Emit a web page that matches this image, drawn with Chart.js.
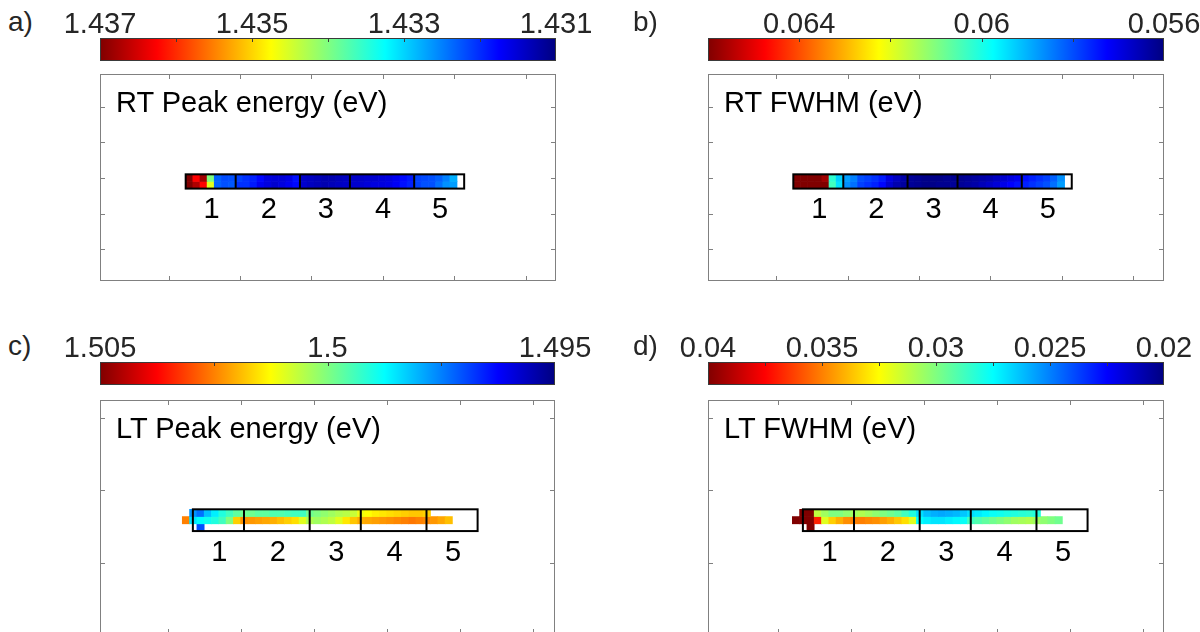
<!DOCTYPE html>
<html>
<head>
<meta charset="utf-8">
<title>PL maps</title>
<script src="https://cdn.jsdelivr.net/npm/chart.js@4.4.1/dist/chart.umd.min.js"></script>
<style>
  html, body { margin: 0; padding: 0; background: #fff; width: 1200px; height: 632px; overflow: hidden; }
  body { position: relative; font-family: "Liberation Sans", Arial, sans-serif; }
  canvas { position: absolute; }
  .txt { position: absolute; white-space: nowrap; line-height: 1; }
</style>
</head>
<body>
<script>
// ==========================================
// DATA (one array per pixel row, null = no signal)
// ==========================================
const rtPeakRow1 = [1.4370, 1.43625, 1.4368, 1.4340, 1.43232, 1.4322, 1.43222,
  1.43213, 1.43203, 1.43194, 1.43178, 1.43156, 1.43152, 1.43152, 1.4316, 1.43184,
  1.43142, 1.43138, 1.43133, 1.43128, 1.43128, 1.43133, 1.43138,
  1.43142, 1.43142, 1.43147, 1.43147, 1.43152, 1.43156, 1.43166, 1.4318, 1.43189,
  1.43213, 1.43218, 1.43222, 1.43232, 1.4325, 1.43278, null];
const rtPeakRow2 = [1.4370, 1.43672, 1.43625, 1.43457, 1.43232, 1.43222, 1.43227,
  1.43203, 1.43203, 1.43189, 1.43166, 1.43156, 1.43147, 1.43156, 1.43166, 1.4318,
  1.43147, 1.43138, 1.43133, 1.43128, 1.43133, 1.43138, 1.43142,
  1.43147, 1.43147, 1.43152, 1.43156, 1.43156, 1.4316, 1.4317, 1.43184, 1.43194,
  1.43213, 1.43222, 1.43222, 1.43241, 1.4326, 1.43268, null];

const rtFwhmRow1 = [0.0661, 0.0661, 0.0661, 0.0661, 0.06568, 0.0602, 0.0593,
  0.0588, 0.0585, 0.0580, 0.05788, 0.05772, 0.0575, 0.05694, 0.05663, 0.05639,
  0.05623, 0.05616, 0.05608, 0.05608, 0.05608, 0.05616, 0.05616,
  0.05616, 0.05623, 0.05631, 0.05639, 0.05647, 0.05663, 0.05678, 0.05694, 0.0571,
  0.05741, 0.05756, 0.05772, 0.05788, 0.05819, 0.05866, null];
const rtFwhmRow2 = [0.0661, 0.0661, 0.0661, 0.0661, 0.0661, 0.06038, 0.05945,
  0.05866, 0.05835, 0.05788, 0.05772, 0.05756, 0.0573, 0.05678, 0.05647, 0.05631,
  0.05623, 0.05616, 0.05608, 0.05608, 0.05616, 0.05616, 0.05623,
  0.05623, 0.05631, 0.05639, 0.05655, 0.0567, 0.05686, 0.05702, 0.05725, 0.05741,
  0.05756, 0.05772, 0.05788, 0.05803, 0.05835, 0.0588, null];

const ltPeakRow1 = [null, 1.4977, 1.49735, 1.49813, 1.4986, 1.49906, 1.49938, 1.49969, 1.49984,
  1.49984, 1.49969, 1.49969, 1.49953, 1.49953, 1.49945, 1.49938, 1.49938,
  1.49984, 1.5, 1.50016, 1.50031, 1.50047, 1.50055, 1.5007,
  1.5011, 1.50125, 1.5014, 1.50148, 1.50156, 1.50164, 1.50172, 1.5018, 1.5018,
  1.50172];
const ltPeakRow2 = [1.5025, 1.4985, 1.49875, 1.4989, 1.49906, 1.49938, 1.5, 1.50172,
  1.50234, 1.50227, 1.50219, 1.50211, 1.50203, 1.50188, 1.50172, 1.50156, 1.50095,
  1.50047, 1.50031, 1.50047, 1.50063, 1.50095, 1.50148, 1.5018,
  1.50203, 1.50211, 1.50219, 1.50227, 1.50234, 1.50242, 1.5025, 1.50258, 1.5025,
  1.50242, 1.50227, 1.50211, 1.50188];
const ltPeakRow3 = [null, null, 1.49703];

const ltFwhmRow1 = [null, 0.0402, 0.0402, 0.03125, 0.03063, 0.03, 0.03, 0.03031, 0.03063,
  0.03094, 0.03063, 0.03031, 0.03, 0.02969, 0.02938, 0.02875, 0.02813,
  0.0269, 0.02625, 0.02594, 0.0258, 0.02594, 0.0261, 0.0264,
  0.0269, 0.0271, 0.0274, 0.02766, 0.0278, 0.028, 0.02813, 0.02828, 0.0284,
  0.02813];
const ltFwhmRow2 = [0.0402, 0.0402, 0.0402, 0.03688, 0.0319, 0.03344, 0.03406, 0.03469,
  0.035, 0.035, 0.03484, 0.03469, 0.03438, 0.03406, 0.0336, 0.03313, 0.0319,
  0.0275, 0.0272, 0.027, 0.027, 0.0272, 0.0274, 0.02766,
  0.02875, 0.02906, 0.02938, 0.02969, 0.03, 0.03031, 0.03063, 0.03078, 0.03094,
  0.03063, 0.03031, 0.03, 0.02969];
const ltFwhmRow3 = [null, null, 0.0402];

// colour scale limits, labels and minor ticks
const rtPeakRange = [1.431, 1.437];
const rtPeakLabels = ['1.437', '1.435', '1.433', '1.431'];
const rtPeakTicks = [1.432, 1.433, 1.434, 1.435, 1.436];

const rtFwhmRange = [0.056, 0.066];
const rtFwhmLabels = ['0.064', '0.06', '0.056'];
const rtFwhmTicks = [0.058, 0.060, 0.062, 0.064];

const ltPeakRange = [1.495, 1.505];
const ltPeakLabels = ['1.505', '1.5', '1.495'];
const ltPeakTicks = [1.4975, 1.5, 1.5025];

const ltFwhmRange = [0.02, 0.04];
const ltFwhmLabels = ['0.04', '0.035', '0.03', '0.025', '0.02'];
const ltFwhmTicks = [0.0225, 0.025, 0.0275, 0.03, 0.0325, 0.035, 0.0375];

// map axes (pixel units) and the five segments of the sample
const boxTicksXRt = [-2.4, 7.6, 17.6, 27.6, 37.6, 47.6];
const boxTicksYRt = [-9.5, -4.5, 0.5, 5.5, 10.5];
const boxTicksXLt = [-2, 8, 18, 28, 38, 48];
const boxTicksYLt = [-12.6, -2.6, 7.4, 17.4];
const segEdgesRt = [0, 7, 16, 23, 32, 39];
const segEdgesLt = [1.45, 8.45, 17.45, 24.45, 33.45, 40.45];
const segLabels = ['1', '2', '3', '4', '5'];

const FONT = '"Liberation Sans", Arial, sans-serif';

// ==========================================
// PANEL LAYOUT
// ==========================================
const panels = [
  { letter: 'a)', title: 'RT Peak energy (eV)', rows: [rtPeakRow1, rtPeakRow2], range: rtPeakRange,
    labels: rtPeakLabels, cbTicks: rtPeakTicks, box: { l: 100, t: 74, r: 556, b: 281 }, bar: { t: 38, b: 61 },
    xLim: [-12.0, 51.86], yLim: [-14.07, 14.96], ticksX: boxTicksXRt, ticksY: boxTicksYRt,
    seg: segEdgesRt, outlineRows: 2, numY: 4.95, letterPos: [8, 32], titlePos: [116, 113] },
  { letter: 'b)', title: 'RT FWHM (eV)', rows: [rtFwhmRow1, rtFwhmRow2], range: rtFwhmRange,
    labels: rtFwhmLabels, cbTicks: rtFwhmTicks, box: { l: 708, t: 74, r: 1164, b: 281 }, bar: { t: 38, b: 61 },
    xLim: [-11.95, 51.92], yLim: [-14.07, 14.96], ticksX: boxTicksXRt, ticksY: boxTicksYRt,
    seg: segEdgesRt, outlineRows: 2, numY: 4.95, letterPos: [633, 32], titlePos: [724, 113] },
  { letter: 'c)', title: 'LT Peak energy (eV)', rows: [ltPeakRow1, ltPeakRow2, ltPeakRow3], range: ltPeakRange,
    labels: ltPeakLabels, cbTicks: ltPeakTicks, box: { l: 100, t: 400, r: 555, b: 634 }, bar: { t: 362, b: 385 },
    xLim: [-11.27, 51.05], yLim: [-15.08, 17.2], ticksX: boxTicksXLt, ticksY: boxTicksYLt,
    seg: segEdgesLt, outlineRows: 3, numY: 6.05, letterPos: [8, 356], titlePos: [116, 439] },
  { letter: 'd)', title: 'LT FWHM (eV)', rows: [ltFwhmRow1, ltFwhmRow2, ltFwhmRow3], range: ltFwhmRange,
    labels: ltFwhmLabels, cbTicks: ltFwhmTicks, box: { l: 708, t: 400, r: 1164, b: 634 }, bar: { t: 362, b: 385 },
    xLim: [-11.55, 50.92], yLim: [-15.08, 17.2], ticksX: boxTicksXLt, ticksY: boxTicksYLt,
    seg: segEdgesLt, outlineRows: 3, numY: 6.05, letterPos: [633, 356], titlePos: [724, 439] }
];

// MATLAB-like jet colormap
function jet(t) {
  t = Math.min(1, Math.max(0, t));
  const c = v => Math.round(255 * Math.min(1, Math.max(0, v)));
  return `rgb(${c(1.5 - Math.abs(4 * t - 3))},${c(1.5 - Math.abs(4 * t - 2))},${c(1.5 - Math.abs(4 * t - 1))})`;
}

function addCanvas(left, top, w, h) {
  const cv = document.createElement('canvas');
  cv.width = w; cv.height = h;
  cv.style.left = left + 'px'; cv.style.top = top + 'px';
  cv.style.width = w + 'px'; cv.style.height = h + 'px';
  document.body.appendChild(cv);
  return cv;
}

function addText(txt, left, baseline, size, color) {
  const d = document.createElement('div');
  d.className = 'txt';
  d.textContent = txt;
  d.style.fontSize = size + 'px';
  d.style.color = color;
  d.style.left = left + 'px';
  d.style.top = (baseline - 0.8465 * size) + 'px';
  document.body.appendChild(d);
}

function line(ctx, x0, y0, x1, y1) {
  ctx.beginPath(); ctx.moveTo(x0, y0); ctx.lineTo(x1, y1); ctx.stroke();
}

// frame, sample outline and segment numbers
const panelFrame = {
  id: 'panelFrame',
  afterDatasetsDraw(chart, args, opts) {
    const { ctx, chartArea: ca, scales: { x, y } } = chart;
    const p = opts.panel;
    ctx.save();
    const y0 = y.getPixelForValue(0);
    const y1 = y.getPixelForValue(p.outlineRows);
    const xs = p.seg.map(v => x.getPixelForValue(v));
    ctx.strokeStyle = '#000';
    ctx.lineWidth = 2;
    ctx.strokeRect(xs[0], y0, xs[xs.length - 1] - xs[0], y1 - y0);
    xs.slice(1, -1).forEach(px => line(ctx, px, y0, px, y1));

    ctx.fillStyle = '#000';
    ctx.font = `29px ${FONT}`;
    ctx.textAlign = 'center';
    ctx.textBaseline = 'middle';
    const ny = y.getPixelForValue(p.numY);
    segLabels.forEach((t, i) => ctx.fillText(t, (xs[i] + xs[i + 1]) / 2 + 1, ny));

    ctx.strokeStyle = '#808080';
    ctx.lineWidth = 1;
    ctx.strokeRect(ca.left + 0.5, ca.top + 0.5, ca.width - 1, ca.height - 1);
    p.ticksX.forEach(v => {
      const px = Math.round(x.getPixelForValue(v)) + 0.5;
      line(ctx, px, ca.top, px, ca.top + 5);
      line(ctx, px, ca.bottom, px, ca.bottom - 5);
    });
    p.ticksY.forEach(v => {
      const py = Math.round(y.getPixelForValue(v)) + 0.5;
      line(ctx, ca.left, py, ca.left + 5, py);
      line(ctx, ca.right, py, ca.right - 5, py);
    });
    ctx.restore();
  }
};

// jet gradient bar with inner minor ticks
const colorBar = {
  id: 'colorBar',
  afterDraw(chart, args, opts) {
    const { ctx, chartArea: ca, scales: { x } } = chart;
    const p = opts.panel;
    ctx.save();
    const g = ctx.createLinearGradient(ca.left, 0, ca.right, 0);
    for (let i = 0; i <= 16; i++) g.addColorStop(i / 16, jet(1 - i / 16));
    ctx.fillStyle = g;
    ctx.fillRect(ca.left, ca.top, ca.width, ca.height);
    ctx.strokeStyle = '#3a3a3a';
    ctx.lineWidth = 1;
    ctx.strokeRect(ca.left + 0.5, ca.top + 0.5, ca.width - 1, ca.height - 1);
    p.cbTicks.forEach(v => {
      const px = Math.round(x.getPixelForValue(v)) + 0.5;
      line(ctx, px, ca.top, px, ca.top + 4);
    });
    ctx.restore();
  }
};

// ==========================================
// BUILD THE FOUR PANELS
// ==========================================
panels.forEach(p => {
  const P = 4;
  const w = p.box.r - p.box.l, h = p.box.b - p.box.t;
  const [lo, hi] = p.range;

  const datasets = p.rows.map((row, r) => ({
    data: row.map((v, i) => (v == null ? null : { x: i + 0.5, y: [r, r + 1], v })).filter(Boolean),
    backgroundColor: ctx => (ctx.raw ? jet((ctx.raw.v - lo) / (hi - lo)) : 'transparent'),
    borderWidth: 0,
    barPercentage: 1,
    categoryPercentage: 1,
    grouped: false
  }));

  new Chart(addCanvas(p.box.l - P, p.box.t - P, w + 2 * P, h + 2 * P), {
    type: 'bar',
    data: { datasets },
    plugins: [panelFrame],
    options: {
      responsive: false, animation: false, devicePixelRatio: 1,
      layout: { padding: P },
      plugins: { legend: { display: false }, tooltip: { enabled: false }, panelFrame: { panel: p } },
      scales: {
        x: { type: 'linear', display: false, offset: false, min: p.xLim[0], max: p.xLim[1] },
        y: { type: 'linear', display: false, reverse: true, min: p.yLim[0], max: p.yLim[1] }
      }
    }
  });

  const labelVals = p.labels.map(Number);
  const AX = 40, M = 60;
  new Chart(addCanvas(p.box.l - M, p.bar.t - AX, w + 2 * M, AX + (p.bar.b - p.bar.t) + 2), {
    type: 'scatter',
    data: { datasets: [] },
    plugins: [colorBar],
    options: {
      responsive: false, animation: false, devicePixelRatio: 1,
      layout: { padding: { left: M, right: M, top: 0, bottom: 2 } },
      plugins: { legend: { display: false }, tooltip: { enabled: false }, colorBar: { panel: p } },
      scales: {
        x: {
          type: 'linear', position: 'top', reverse: true, min: lo, max: hi,
          grid: { display: false, drawTicks: false }, border: { display: false },
          afterBuildTicks: s => { s.ticks = labelVals.map(v => ({ value: v })); },
          afterFit: s => { s.height = AX; },
          ticks: { autoSkip: false, maxRotation: 0, padding: -4, color: '#262626',
            font: { size: 29, family: FONT }, callback: (v, i) => p.labels[i] }
        },
        y: { display: false }
      }
    }
  });

  addText(p.letter, p.letterPos[0], p.letterPos[1], 28, '#262626');
  addText(p.title, p.titlePos[0], p.titlePos[1], 29, '#000');
});
</script>
</body>
</html>
